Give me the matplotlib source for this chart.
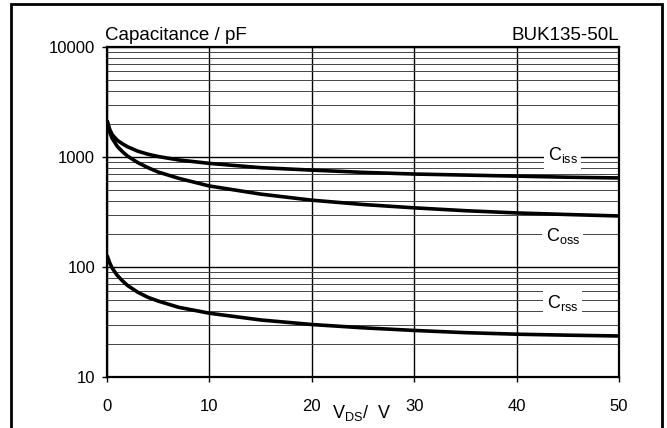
import numpy as np
import matplotlib
matplotlib.use('Agg')
import matplotlib.pyplot as plt
import matplotlib.patches as mpatches
from matplotlib.ticker import LogLocator, NullFormatter

plt.rcParams['font.family'] = ['Liberation Sans', 'DejaVu Sans']
plt.rcParams['mathtext.fontset'] = 'custom'
plt.rcParams['mathtext.rm'] = 'Liberation Sans'
plt.rcParams['mathtext.it'] = 'Liberation Sans'

# values
vds = [0, 0.25, 0.5, 1, 1.5, 2, 3, 4, 5, 7, 10, 15, 20, 25, 30, 35, 40, 45, 50]
ciss = [2150, 1800, 1600, 1420, 1320, 1240, 1130, 1060, 1010, 940, 875, 800, 760, 725, 700, 685, 670, 655, 645]
coss = [2150, 1700, 1480, 1250, 1120, 1020, 890, 800, 730, 640, 545, 460, 405, 370, 345, 325, 310, 300, 291]
crss = [128, 110, 98, 84, 75, 68, 59, 53, 49, 43, 38, 33, 30, 28, 26.5, 25.3, 24.5, 24, 23.6]

xticks = [0, 10, 20, 30, 40, 50]
yticks = [10, 100, 1000, 10000]
labels = [(r'C$_{\mathrm{iss}}$', 1040), (r'C$_{\mathrm{oss}}$', 191), (r'C$_{\mathrm{rss}}$', 47)]

fig = plt.figure(figsize=(6.67, 4.28), dpi=100)
ax = fig.add_axes([107 / 667, 1 - 377 / 428, 512 / 667, 330 / 428])

ax.set_yscale('log')
ax.set_xlim(0, 50)
ax.set_ylim(10, 10000)
ax.set_xticks(xticks)
ax.set_xticklabels([str(t) for t in xticks])
ax.set_yticks(yticks)
ax.set_yticklabels([str(t) for t in yticks])
ax.yaxis.set_minor_locator(LogLocator(base=10, subs=np.arange(2, 10)))
ax.yaxis.set_minor_formatter(NullFormatter())
ax.tick_params(axis='both', which='major', labelsize=12, direction='out', length=3.6, width=1, pad=5)
ax.tick_params(axis='x', which='major', pad=12)
ax.tick_params(axis='y', which='minor', length=0)

ax.grid(True, which='major', color='black', linewidth=1.0)
ax.grid(True, which='minor', axis='y', color='#444444', linewidth=0.7)
for s in ax.spines.values():
    s.set_linewidth(1.6)

ax.plot(vds, ciss, color='black', linewidth=2.6, solid_capstyle='butt')
ax.plot(vds, coss, color='black', linewidth=2.6, solid_capstyle='butt')
ax.plot(vds, crss, color='black', linewidth=2.6, solid_capstyle='butt')

for txt, yv in labels:
    ax.text(44.5, yv, txt, fontsize=13, ha='center', va='center',
            bbox=dict(facecolor='white', edgecolor='none', pad=2.5))

fig.text(105 / 667, 1 - 35 / 428, 'Capacitance / pF', fontsize=13.5, ha='left', va='center')
fig.text(619 / 667, 1 - 35 / 428, 'BUK135-50L', fontsize=13.5, ha='right', va='center')
fig.text(362 / 667, 1 - 413 / 428, r'V$_{\mathrm{DS}}$/  V', fontsize=13, ha='center', va='center')

frame = mpatches.Rectangle((11 / 667, -0.05), 651 / 667, 1.05 - 4 / 428, transform=fig.transFigure,
                           fill=False, edgecolor='black', linewidth=2)
fig.patches.append(frame)

fig.savefig('out.png', dpi=100)
